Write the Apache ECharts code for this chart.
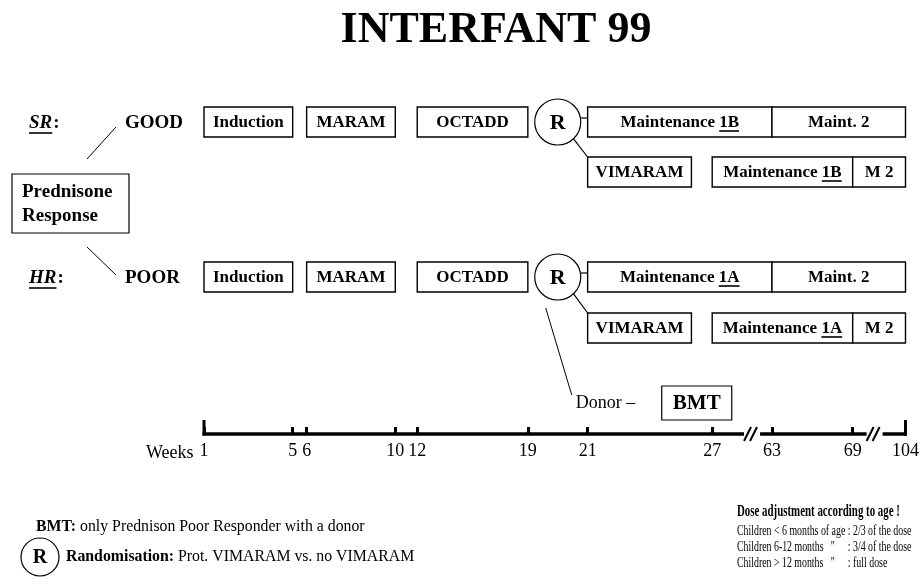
<!DOCTYPE html>
<html>
<head>
<meta charset="utf-8">
<title>INTERFANT 99</title>
<script src="https://cdn.jsdelivr.net/npm/echarts@6.0.0/dist/echarts.min.js"></script>
<style>
  html, body { margin: 0; padding: 0; background: #ffffff; }
  #main { width: 922px; height: 586px; }
</style>
</head>
<body>
<div id="main"></div>
<script>
// ---------- data read from the protocol scheme ----------
// weeks printed under the time line
const weekTicks = [1, 5, 6, 10, 12, 19, 21, 27, 63, 69, 104];

// risk groups by prednisone response
const groups = ['SR', 'HR'];
const responses = ['GOOD', 'POOR'];
const maintCodes = ['1B', '1A'];

// blocks everybody gets before the randomisation
const firstBlocks = ['Induction', 'MARAM', 'OCTADD'];
const firstStart = [1, 6, 12];
const firstEnd = [5, 10, 19];

// randomisation (R) between OCTADD and week 21
const randWeek = 20;

// arm without VIMARAM
const armNoBlocks = ['Maintenance', 'Maint. 2'];
const armNoStart = [21, 63];
const armNoEnd = [63, 104];

// arm with VIMARAM
const armVimBlocks = ['VIMARAM', 'Maintenance', 'M 2'];
const armVimStart = [21, 27, 69];
const armVimEnd = [26, 69, 104];

// groups that go to BMT when there is a donor
const bmtGroups = ['HR'];

// dose adjustment table
const doseRows = ['Children < 6 months of age', 'Children 6-12 months', 'Children > 12 months'];
const doseDitto = ['', '"', '"'];
const doseValues = [': 2/3 of the dose', ': 3/4 of the dose', ': full dose'];

// ---------- layout (not data) ----------
const FONT = '"Liberation Serif", "Times New Roman", serif';
// the time line is schematic: place of every printed week along it
const tickX = [0, 89, 103, 192, 214, 325, 385, 510, 570, 651, 704];
const breakX = [550, 673];
// vertical lanes in y axis units (0 = top of grid)
const lane = { SR: [38, 88], HR: [193, 244], pred: 119.5, bmt: 319, axis: 350 };
const BOX_H = 30;

const measureCtx = document.createElement('canvas').getContext('2d');
function textWidth(str, font) {
  measureCtx.font = font;
  return measureCtx.measureText(str).width;
}

// week -> position on the schematic axis
function wk(w) {
  for (let i = 0; i < weekTicks.length - 1; i++) {
    if (w <= weekTicks[i + 1]) {
      const t = (w - weekTicks[i]) / (weekTicks[i + 1] - weekTicks[i]);
      return tickX[i] + t * (tickX[i + 1] - tickX[i]);
    }
  }
  return tickX[tickX.length - 1];
}

// build the marks
const items = [];
groups.forEach((g, gi) => {
  const yMain = lane[g][0], yVim = lane[g][1];
  items.push({ kind: 'group', x0: 0, x1: 0, y: yMain, label: g, resp: responses[gi] });
  firstBlocks.forEach((n, i) => {
    items.push({ kind: 'box', x0: wk(firstStart[i]), x1: wk(firstEnd[i]), y: yMain, name: n });
  });
  armNoBlocks.forEach((n, i) => {
    items.push({ kind: 'box', x0: wk(armNoStart[i]), x1: wk(armNoEnd[i]), y: yMain, name: n,
      code: n === 'Maintenance' ? maintCodes[gi] : '' });
  });
  armVimBlocks.forEach((n, i) => {
    items.push({ kind: 'box', x0: wk(armVimStart[i]), x1: wk(armVimEnd[i]), y: yVim, name: n,
      code: n === 'Maintenance' ? maintCodes[gi] : '' });
  });
  items.push({ kind: 'rand', x0: wk(randWeek), x1: wk(armNoStart[0]), y: yMain, y2: yVim,
    bmt: bmtGroups.indexOf(g) >= 0 });
});
items.push({ kind: 'pred', x0: 0, x1: 0, y: lane.pred });
items.push({ kind: 'axis', x0: wk(weekTicks[0]), x1: wk(weekTicks[weekTicks.length - 1]), y: lane.axis });

function line(x1, y1, x2, y2, w) {
  return { type: 'line', shape: { x1, y1, x2, y2 }, style: { stroke: '#000', lineWidth: w || 1.2 } };
}
function txt(text, x, y, font, align) {
  return { type: 'text', style: { text, x, y, font, fill: '#000', align: align || 'left', verticalAlign: 'middle' } };
}

function renderItem(params, api) {
  const it = items[params.dataIndex];
  const ch = [];
  if (it.kind === 'box') {
    const a = api.coord([it.x0, it.y]), b = api.coord([it.x1, it.y]);
    const cx = (a[0] + b[0]) / 2, cy = a[1];
    const font = 'bold 17px ' + FONT;
    const label = it.code ? it.name + ' ' + it.code : it.name;
    ch.push({ type: 'rect', shape: { x: a[0], y: cy - BOX_H / 2, width: b[0] - a[0], height: BOX_H },
      style: { fill: '#fff', stroke: '#000', lineWidth: 1.4 } });
    ch.push(txt(label, cx, cy + 1, font, 'center'));
    if (it.code) {
      const w = textWidth(label, font), wc = textWidth(it.code, font);
      const ux = cx + w / 2;
      ch.push(line(ux - wc, cy + 9, ux, cy + 9, 1.6));
    }
  } else if (it.kind === 'rand') {
    const c = api.coord([it.x0, it.y]);
    const to = api.coord([it.x1, it.y]);
    const vimTop = api.coord([it.x1, it.y2])[1] - BOX_H / 2;
    const r = 23;
    ch.push({ type: 'circle', shape: { cx: c[0], cy: c[1], r }, style: { fill: '#fff', stroke: '#000', lineWidth: 1.2 } });
    ch.push(txt('R', c[0], c[1] + 1, 'bold 22px ' + FONT, 'center'));
    ch.push(line(c[0] + r - 0.4, c[1] - 4, to[0], c[1] - 4));
    ch.push(line(c[0] + r * 0.68, c[1] + r * 0.72, to[0], vimTop));
    if (it.bmt) {
      const by = api.coord([0, lane.bmt])[1];
      ch.push(line(c[0] - 12, c[1] + 31, c[0] + 14, by - 8, 1));
      ch.push(txt('Donor \u2013', c[0] + 18, by, '18px ' + FONT));
      ch.push({ type: 'rect', shape: { x: c[0] + 104, y: by - 17, width: 70, height: 34 },
        style: { fill: '#fff', stroke: '#000', lineWidth: 1.2 } });
      ch.push(txt('BMT', c[0] + 139, by + 1, 'bold 21px ' + FONT, 'center'));
    }
  } else if (it.kind === 'group') {
    const g = api.coord([0, it.y]);
    const x = g[0] - 175, y = g[1] + 1;
    const f1 = 'italic bold 19px ' + FONT;
    const w = textWidth(it.label, f1);
    ch.push(txt(it.label, x, y, f1));
    ch.push(txt(':', x + w + 1, y, 'bold 19px ' + FONT));
    ch.push(line(x, y + 10, x + w, y + 10, 1.6));
    ch.push(txt(it.resp, g[0] - 79, y, 'bold 19px ' + FONT));
  } else if (it.kind === 'pred') {
    const g = api.coord([0, it.y]);
    const top = g[1] - 29.5, bottom = g[1] + 29.5;
    const ySR = api.coord([0, lane.SR[0]])[1], yHR = api.coord([0, lane.HR[0]])[1];
    ch.push({ type: 'rect', shape: { x: g[0] - 192, y: top, width: 117, height: 59 },
      style: { fill: '#fff', stroke: '#000', lineWidth: 1.2 } });
    ch.push(txt('Prednisone', g[0] - 182, g[1] - 11, 'bold 19px ' + FONT));
    ch.push(txt('Response', g[0] - 182, g[1] + 13, 'bold 19px ' + FONT));
    ch.push(line(g[0] - 117, top - 15, g[0] - 88, ySR + 5, 1));
    ch.push(line(g[0] - 117, bottom + 14, g[0] - 88, yHR - 2, 1));
  } else if (it.kind === 'axis') {
    const a = api.coord([it.x0, it.y]), b = api.coord([it.x1, it.y]);
    const y = a[1];
    const b1 = api.coord([breakX[0], it.y])[0], b2 = api.coord([breakX[1], it.y])[0];
    ch.push(line(a[0] - 1.5, y, b1 - 8, y, 3.5));
    ch.push(line(b1 + 8, y, b2 - 8, y, 3.5));
    ch.push(line(b2 + 8, y, b[0] + 1.5, y, 3.5));
    ch.push(line(a[0], y + 1.5, a[0], y - 14, 3));
    ch.push(line(b[0], y + 1.5, b[0], y - 14, 3));
    [b1, b2].forEach(bx => {
      ch.push(line(bx - 8, y + 7, bx - 1, y - 7, 2));
      ch.push(line(bx - 2, y + 7, bx + 5, y - 7, 2));
    });
  }
  return { type: 'group', children: ch };
}

// footnotes
const richNote = {
  b: { fontWeight: 'bold', fontSize: 17, fontFamily: FONT, fill: '#000' },
  r: { fontSize: 17, fontFamily: FONT, fill: '#000' }
};
const notes = [
  { type: 'text', x: 36, y: 527, scaleX: 0.93, style: {
      text: '{b|BMT:}{r| only Prednison Poor Responder with a donor}', verticalAlign: 'middle', rich: richNote } },
  { type: 'circle', shape: { cx: 40, cy: 557, r: 19 }, style: { fill: '#fff', stroke: '#000', lineWidth: 1.2 } },
  { type: 'text', x: 40, y: 558, style: { text: 'R', font: 'bold 20px ' + FONT, fill: '#000', align: 'center', verticalAlign: 'middle' } },
  { type: 'text', x: 66, y: 557, scaleX: 0.93, style: {
      text: '{b|Randomisation:}{r| Prot. VIMARAM vs. no VIMARAM}', verticalAlign: 'middle', rich: richNote } }
];
const doseChildren = [
  { type: 'text', x: 0, y: 0, style: { text: 'Dose adjustment according to age !', font: 'bold 16px ' + FONT,
    fill: '#000', verticalAlign: 'middle' } }
];
doseRows.forEach((row, i) => {
  const y = 19 + i * 16;
  doseChildren.push({ type: 'text', x: 0, y, style: { text: row, font: '14.5px ' + FONT, fill: '#000', verticalAlign: 'middle' } });
  if (doseDitto[i]) {
    doseChildren.push({ type: 'text', x: 138, y, style: { text: doseDitto[i], font: '14.5px ' + FONT, fill: '#000', verticalAlign: 'middle' } });
  }
  doseChildren.push({ type: 'text', x: 163, y, style: { text: doseValues[i], font: '14.5px ' + FONT, fill: '#000', verticalAlign: 'middle' } });
});
notes.push({ type: 'group', x: 737, y: 512, scaleX: 0.68, scaleY: 1, children: doseChildren });

const chart = echarts.init(document.getElementById('main'));
chart.setOption({
  animation: false,
  backgroundColor: '#fff',
  title: {
    text: 'INTERFANT 99',
    left: 491,
    top: 4,
    textAlign: 'center',
    textStyle: { fontFamily: FONT, fontSize: 44, fontWeight: 'bold', color: '#000' }
  },
  grid: { left: 204, right: 14, top: 84, bottom: 152 },
  xAxis: {
    type: 'value',
    min: 0,
    max: tickX[tickX.length - 1],
    splitLine: { show: false },
    axisLine: { show: false, onZero: false },
    axisTick: {
      customValues: tickX,
      inside: true,
      length: 7,
      lineStyle: { color: '#000', width: 3 }
    },
    axisLabel: {
      customValues: tickX,
      formatter: v => String(weekTicks[tickX.indexOf(v)]),
      color: '#000',
      fontFamily: FONT,
      fontSize: 18,
      margin: 8
    },
    name: 'Weeks',
    nameLocation: 'start',
    nameGap: 9,
    nameTextStyle: { color: '#000', fontFamily: FONT, fontSize: 18, verticalAlign: 'top', padding: [10, 0, 0, 0] }
  },
  yAxis: { type: 'value', min: 0, max: lane.axis, inverse: true, show: false },
  series: [{
    type: 'custom',
    renderItem,
    data: items.map(it => [it.x0, it.y]),
    silent: true
  }],
  graphic: notes
});
</script>
</body>
</html>
